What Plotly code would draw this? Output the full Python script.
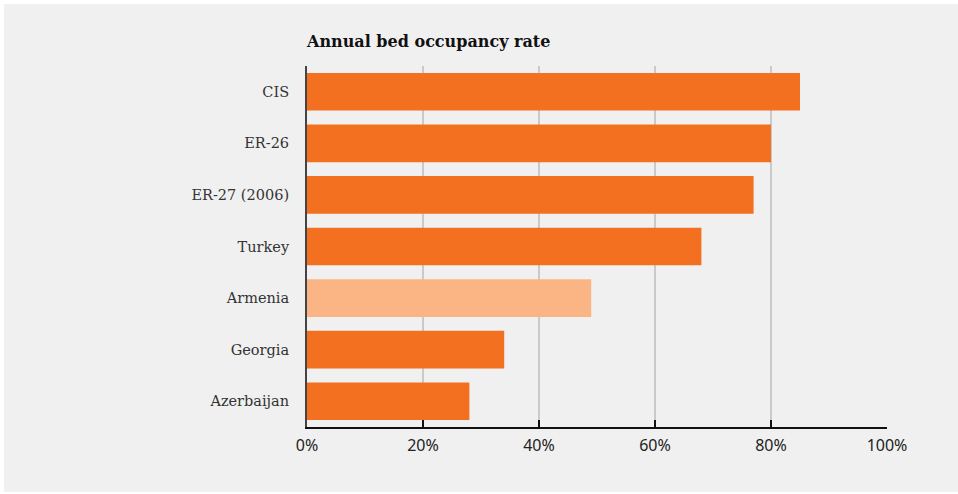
import plotly.graph_objects as go

categories = ["CIS", "ER-26", "ER-27 (2006)", "Turkey", "Armenia", "Georgia", "Azerbaijan"]
values = [85, 80, 77, 68, 49, 34, 28]
highlight = "Armenia"
tick_vals = [0, 20, 40, 60, 80, 100]
tick_text = ["0%", "20%", "40%", "60%", "80%", "100%"]
title_text = "Annual bed occupancy rate"

ORANGE = "#F37021"
LIGHT = "#FBB584"
BG = "#F0F0F0"

colors = [LIGHT if c == highlight else ORANGE for c in categories]

fig = go.Figure()
fig.add_trace(go.Bar(
    x=values, y=categories, orientation="h",
    marker=dict(color=colors, line=dict(width=0)),
    hoverinfo="x+y",
))

L, R, T, B = 307, 71, 66, 67
W, H = 958, 494
pw = W - L - R
ph = H - T - B

fig.update_layout(
    width=W, height=H,
    margin=dict(l=L, r=R, t=T, b=B, pad=0),
    paper_bgcolor="white",
    plot_bgcolor=BG,
    bargap=0.27,
    showlegend=False,
    font=dict(family="DejaVu Serif", color="#333333"),
    title=dict(
        text="<b>" + title_text + "</b>",
        x=0, xref="paper", xanchor="left",
        y=(H - 41) / H, yanchor="middle",
        font=dict(family="DejaVu Serif", size=16, color="#111111"),
    ),
    xaxis=dict(
        range=[0, 100], tickvals=tick_vals, ticktext=tick_text,
        showgrid=True, gridcolor="#CACACA", gridwidth=1.5,
        zeroline=False,
        showline=True, linecolor="#111111", linewidth=1.5,
        ticks="inside", ticklen=7, tickcolor="#111111", tickwidth=1.5,
        tickfont=dict(family="Noto Sans", size=16, color="#222222"),
        ticklabelstandoff=3,
        fixedrange=True,
    ),
    yaxis=dict(
        categoryorder="array", categoryarray=categories[::-1],
        range=[-0.5, len(categories) - 0.5],
        showgrid=False, zeroline=False,
        showline=True, linecolor="#444444", linewidth=2,
        ticks="", ticklabelstandoff=13,
        tickfont=dict(family="DejaVu Serif", size=14.5, color="#333333"),
        fixedrange=True,
    ),
    shapes=[dict(
        type="rect", xref="paper", yref="paper", layer="below",
        x0=(4 - L) / pw, x1=(W + 2 - L) / pw,
        y0=(T + ph - (H - 2)) / ph, y1=(T + ph - 4) / ph,
        fillcolor=BG, line=dict(width=0),
    )],
)

fig.write_html("out.html")
